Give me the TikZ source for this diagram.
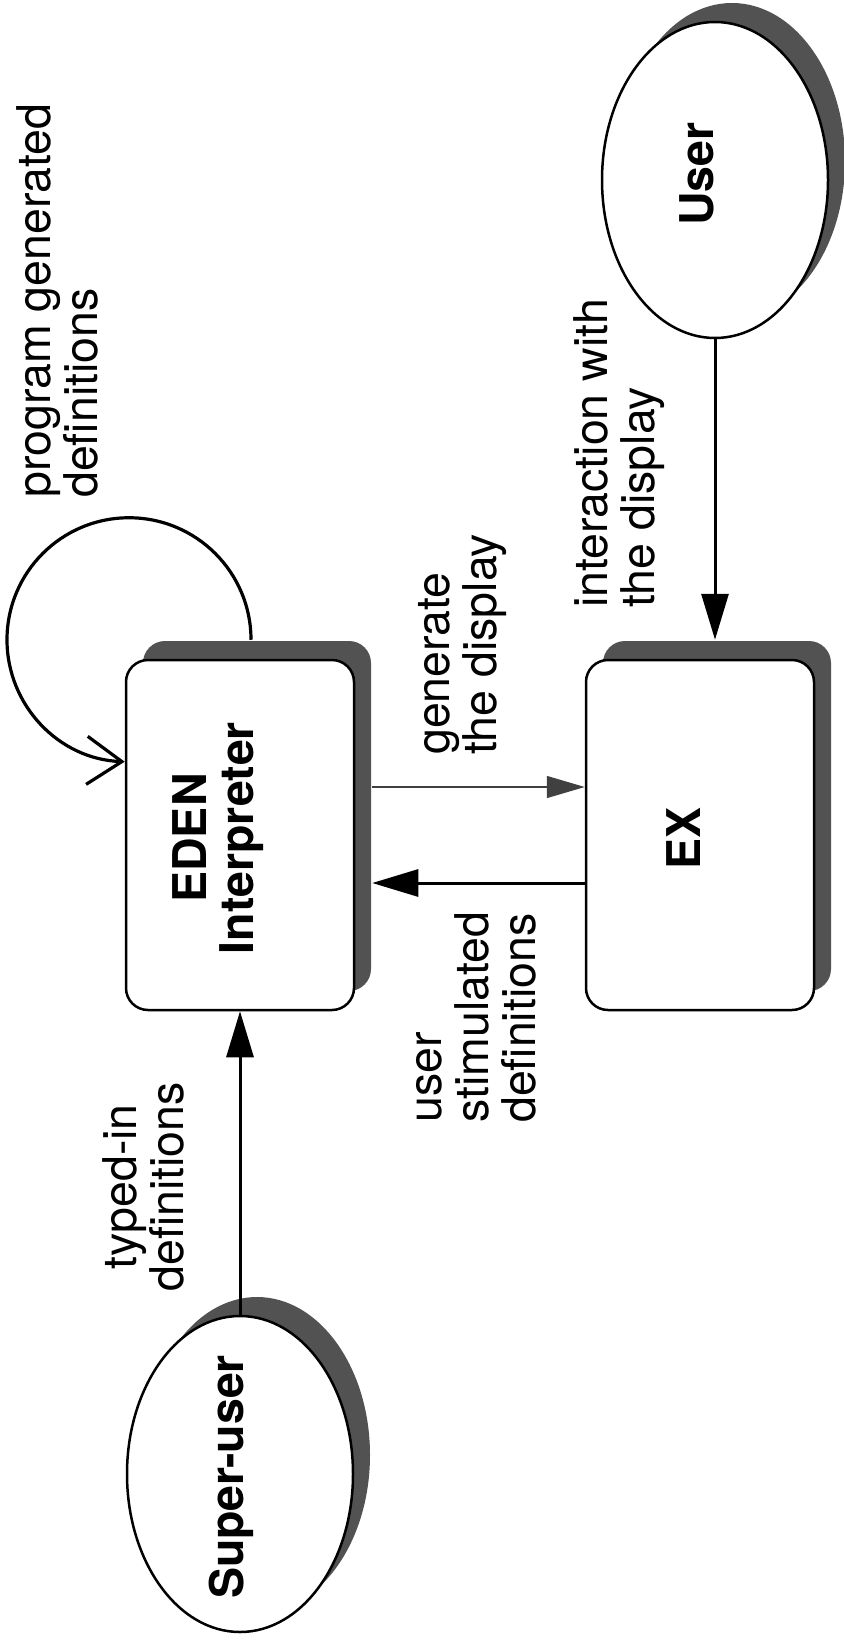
\documentclass[tikz,border=0pt]{standalone}
\usepackage{fontspec}
\setmainfont{TeX Gyre Heros}
\usetikzlibrary{arrows.meta,shapes.geometric}
\begin{document}
\begin{tikzpicture}[x=1pt,y=1pt,font=\fontsize{46.5}{47}\selectfont,
		box/.style={draw,line width=2.5pt,fill=white,rounded corners=22pt,minimum width=228pt,minimum height=350pt,inner sep=0pt},
		oval/.style={ellipse,draw,line width=2.5pt,fill=white,minimum width=226pt,minimum height=316pt,inner sep=0pt},
		shd/.style={draw=none,fill=black!68},
		txt/.style={rotate=90,align=left,anchor=west,inner sep=0pt},
		tag/.style={rotate=90,align=center,font=\fontsize{46.5}{47}\selectfont\bfseries,inner sep=0pt},
		arr/.style={line width=3pt,-{Triangle[length=46pt,width=27pt]}}]
	\useasboundingbox (0,0) rectangle (843,-1645);
	\foreach \n/\p in {eden/{240,-835},ex/{700,-835}}{
		\node[box,shd,xshift=17pt,yshift=19pt] (\n S) at (\p) {};
		\node[box] (\n) at (\p) {};
	}
	\foreach \n/\p in {user/{715,-180},super/{240,-1474}}{
		\node[oval,shd,xshift=17pt,yshift=19pt] (\n S) at (\p) {};
		\node[oval] (\n) at (\p) {};
	}
	\node[tag] (edenT) at (218,-838) {EDEN\\Interpreter};
	\node[tag] (exT) at (684,-838) {EX};
	\node[tag] (userT) at (697,-174) {User};
	\node[tag] (superT) at (231,-1477) {Super-user};
	\path ([yshift=48pt]eden.center) coordinate (g) ([yshift=-48pt]eden.center) coordinate (s);
	\draw[arr] (super.north) -- (eden.south);
	\draw[arr] (user.south) -- (user.south |- exS.north);
	\draw[line width=1.4pt,black!75,-{Triangle[length=38pt,width=22pt]}] (g -| edenS.east) -- (g -| ex.west);
	\draw[arr] (s -| ex.west) -- (s -| edenS.east);
	\draw[line width=3.2pt,-{Straight Barb[length=35pt,width=48pt,line width=3.2pt]}] ([xshift=-6pt]edenS.north) arc[start angle=0,end angle=268,radius=122pt];
	\node[txt] (prog) at (57,-498) {program generated\\definitions};
	\node[txt] (gen) at (463,-755) {generate\\the display};
	\node[txt] (inter) at (619,-608) {interaction with\\the display};
	\node[txt] (stim) at (476,-1123) {user\\stimulated\\definitions};
	\node[txt,align=center,anchor=center] (typed) at (143,-1187) {typed-in\\definitions};
\end{tikzpicture}
\end{document}
